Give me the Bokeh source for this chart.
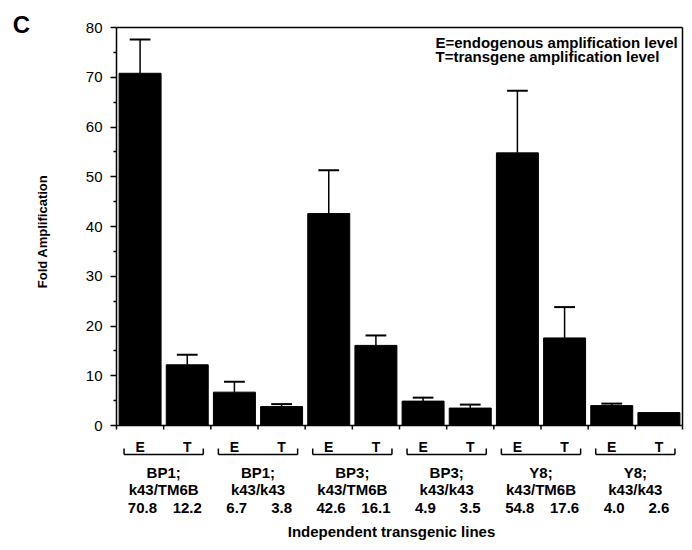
import numpy as np
from bokeh.plotting import figure
from bokeh.models import Range1d, FixedTicker
from bokeh.core.properties import value
from bokeh.embed import file_html
from bokeh.resources import INLINE

# ---------------- data ----------------
line_names = ["BP1;", "BP1;", "BP3;", "BP3;", "Y8;", "Y8;"]
genotypes = ["k43/TM6B", "k43/k43", "k43/TM6B", "k43/k43", "k43/TM6B", "k43/k43"]
bar_kinds = ["E", "T"]
endogenous = [70.8, 6.7, 42.6, 4.9, 54.8, 4.0]
transgene = [12.2, 3.8, 16.1, 3.5, 17.6, 2.6]
endogenous_err = [6.8, 2.1, 8.7, 0.7, 12.5, 0.4]
transgene_err = [2.0, 0.5, 2.0, 0.7, 6.2, 0.0]
y_ticks = [0, 10, 20, 30, 40, 50, 60, 70, 80]
y_minor_ticks = [5, 15, 25, 35, 45, 55, 65, 75]
legend_lines = ["E=endogenous amplification level", "T=transgene amplification level"]
x_title = "Independent transgenic lines"
y_title = "Fold Amplification"
panel_letter = "C"

FONT = value("Liberation Sans")

# ---------------- geometry (canvas px -> data) ----------------
W, H = 684, 542
n_groups = len(endogenous)
n_bars = 2 * n_groups
AX_X, AX_Y = 116, 425          # canvas position of the origin
RIGHT_X = 682                  # canvas x of the right border
TOP_Y = 27                     # canvas y of value 80
PX_X = (RIGHT_X - AX_X) / n_bars
PX_Y = (AX_Y - TOP_Y) / 80.0

def dx(sx):
    return (sx - AX_X) / PX_X

def dy(sy):
    return (AX_Y - sy) / PX_Y

p = figure(width=W, height=H, output_backend="svg", toolbar_location=None,
           x_range=Range1d(dx(0), dx(W)), y_range=Range1d(dy(H), dy(0)),
           x_axis_location=None, min_border=0,
           min_border_left=0, min_border_right=0, min_border_top=0, min_border_bottom=0)
p.outline_line_color = None
p.xgrid.visible = False
p.ygrid.visible = False
p.background_fill_color = "white"
p.border_fill_color = "white"

# y axis, fixed at x = 0 inside the frame
ax = p.yaxis[0]
ax.fixed_location = 0
ax.bounds = (0, 80)
ax.ticker = FixedTicker(ticks=y_ticks, minor_ticks=y_minor_ticks)
ax.axis_line_width = 1.5
ax.axis_line_color = "black"
ax.major_tick_line_width = 1.5
ax.minor_tick_line_width = 1.5
ax.major_tick_out = 6
ax.major_tick_in = 0
ax.minor_tick_out = 3
ax.minor_tick_in = 0
ax.major_label_standoff = 8
ax.major_label_text_font = "Liberation Sans"
ax.major_label_text_font_size = "15px"
ax.major_label_text_color = "black"
ax.axis_label = None

# bars
tops, errs, xs, kinds = [], [], [], []
for g in range(n_groups):
    for k, (v, e) in enumerate([(endogenous[g], endogenous_err[g]), (transgene[g], transgene_err[g])]):
        xs.append(2 * g + k + 0.5)
        tops.append(v)
        errs.append(e)
        kinds.append(bar_kinds[k])
xs = np.array(xs)
tops = np.array(tops)
errs = np.array(errs)

p.vbar(x=xs, top=tops, bottom=0, width=0.89, fill_color="black", line_color="black", line_width=1)

# error bars (only where an error exists)
m = errs > 0
upper = tops + errs
p.segment(x0=xs[m], y0=tops[m], x1=xs[m], y1=upper[m], line_color="black", line_width=1.5)
p.segment(x0=xs[m] - 0.22, y0=upper[m], x1=xs[m] + 0.22, y1=upper[m], line_color="black", line_width=2)

# frame: x axis line, top and right border
p.segment(x0=[0, 0, n_bars], y0=[0, 80, 0], x1=[n_bars, n_bars, n_bars], y1=[0, 80, 80],
          line_color="black", line_width=1.5)
# x ticks at bar boundaries
bounds = np.arange(n_bars + 1)
p.segment(x0=bounds, y0=np.zeros(len(bounds)), x1=bounds, y1=np.full(len(bounds), dy(AX_Y + 4)),
          line_color="black", line_width=1.5)

# E / T letters
p.text(x=xs, y=np.full(len(xs), dy(446)), text=kinds, text_font=FONT, text_font_style="bold",
       text_font_size="14px", text_align="center", text_baseline="middle", text_color="black")

# brackets
gc = np.arange(n_groups) * 2 + 1.0
half = 0.84
yb = dy(454)
yt = dy(448)
p.segment(x0=gc - half, y0=np.full(n_groups, yb), x1=gc + half, y1=np.full(n_groups, yb),
          line_color="black", line_width=1.5)
p.segment(x0=np.concatenate([gc - half, gc + half]), y0=np.full(2 * n_groups, yb),
          x1=np.concatenate([gc - half, gc + half]), y1=np.full(2 * n_groups, yt),
          line_color="black", line_width=1.5)

# group labels
txt_kw = dict(text_font=FONT, text_font_style="bold", text_font_size="15px",
              text_align="center", text_baseline="middle", text_color="black")
p.text(x=gc, y=np.full(n_groups, dy(472)), text=line_names, **txt_kw)
p.text(x=gc, y=np.full(n_groups, dy(489)), text=genotypes, **txt_kw)
p.text(x=gc - 0.45, y=np.full(n_groups, dy(507)), text=[f"{v:.1f}" for v in endogenous], **txt_kw)
p.text(x=gc + 0.5, y=np.full(n_groups, dy(507)), text=[f"{v:.1f}" for v in transgene], **txt_kw)

# x title
p.text(x=[dx(391)], y=[dy(531)], text=[x_title], **txt_kw)

# y title (rotated)
p.text(x=[dx(42)], y=[dy(231)], text=[y_title], angle=np.pi / 2, text_font=FONT,
       text_font_style="bold", text_font_size="13px", text_align="center",
       text_baseline="middle", text_color="black")

# legend text
p.text(x=[dx(435)] * 2, y=[dy(42), dy(56)], text=legend_lines, text_font=FONT, text_font_style="bold",
       text_font_size="15px", text_align="left", text_baseline="middle", text_color="black")

# panel letter
p.text(x=[dx(21)], y=[dy(24)], text=[panel_letter], text_font=FONT, text_font_style="bold",
       text_font_size="24px", text_align="center", text_baseline="middle", text_color="black")

open("out.html", "w").write(file_html(p, INLINE))
